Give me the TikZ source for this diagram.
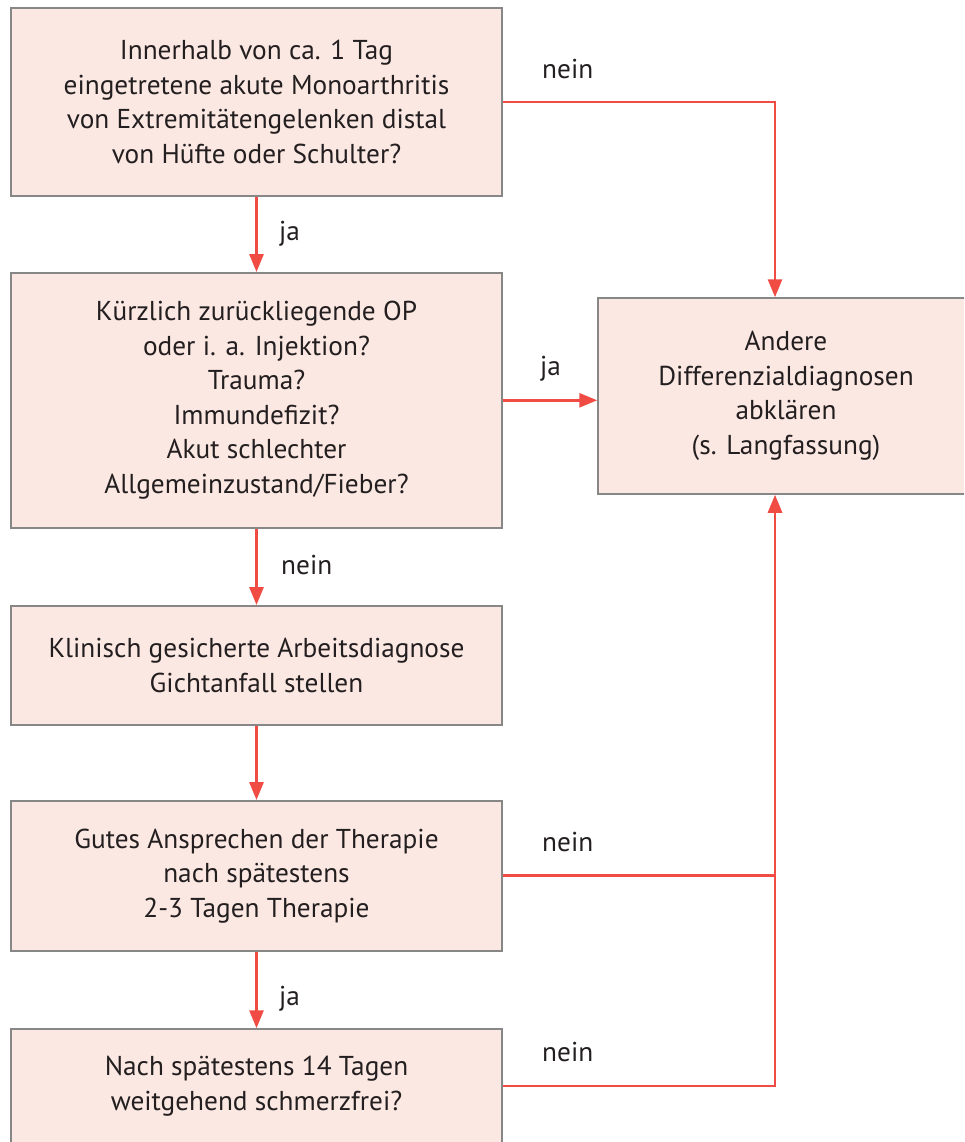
\documentclass[tikz,border=0pt]{standalone}
\usepackage{fontspec}
\setmainfont{PT Sans}
\usetikzlibrary{arrows.meta}
\definecolor{boxfill}{RGB}{252,232,226}
\definecolor{boxline}{RGB}{135,135,135}
\definecolor{arrowred}{RGB}{240,76,68}
\definecolor{txt}{RGB}{35,31,32}
\begin{document}
\begin{tikzpicture}[x=1pt,y=-1pt,
 box/.style={draw=boxline, line width=1.5pt, fill=boxfill, align=center, inner sep=0pt, font=\fontsize{27.3}{34.5}\selectfont, text=txt},
 conn/.style={draw=arrowred, line width=2.8pt},
 arr/.style={conn, -{Triangle[width=14pt,length=18pt]}},
 lbl/.style={font=\fontsize{27.3}{34.5}\selectfont, text=txt, inner sep=0pt, anchor=base west}]
\useasboundingbox (0,0) rectangle (964,1142);
\clip (0,0) rectangle (964,1142);
\node[box, minimum width=491pt, minimum height=188pt] (b1) at (256.5,102) {Innerhalb von ca. 1 Tag\\eingetretene akute Monoarthritis\\von Extremitätengelenken distal\\von Hüfte oder Schulter?};
\node[box, minimum width=491pt, minimum height=255pt] (b2) at (256.5,400.3) {Kürzlich zurückliegende OP\\oder i. a. Injektion?\\Trauma?\\Immundefizit?\\Akut schlechter\\Allgemeinzustand/Fieber?};
\node[box, minimum width=491pt, minimum height=119pt] (b3) at (256.5,665.3) {Klinisch gesicherte Arbeitsdiagnose\\Gichtanfall stellen};
\node[box, minimum width=491pt, minimum height=150pt] (b4) at (256.5,875.8) {Gutes Ansprechen der Therapie\\nach spätestens\\2-3 Tagen Therapie};
\node[box, minimum width=491pt, minimum height=114pt] (b5) at (256.5,1086) {Nach spätestens 14 Tagen\\weitgehend schmerzfrei?};
\node[box, minimum width=376pt, minimum height=196pt] (R) at (786,396) {Andere\\Differenzialdiagnosen\\abklären\\(s. Langfassung)};
\coordinate (rx) at (775,0);
\draw[arr] (b1) -- (b2);
\draw[arr] (b2) -- (b3);
\draw[arr] (b3) -- (b4);
\draw[arr] (b4) -- (b5);
\draw[arr] (b1.east) -| (rx |- R.north);
\draw[arr] (b2.east) -- (b2.east -| R.west);
\draw[conn] (b4.east) -- (b4.east -| rx);
\draw[arr] (b5.east) -| (rx |- R.south);
\node[lbl] (l1) at (542,79) {nein};
\node[lbl] (l2) at (279,240) {ja};
\node[lbl] (l3) at (540,375) {ja};
\node[lbl] (l4) at (281,574) {nein};
\node[lbl] (l5) at (542,851) {nein};
\node[lbl] (l6) at (279,1005) {ja};
\node[lbl] (l7) at (542,1061) {nein};
\end{tikzpicture}
\end{document}
